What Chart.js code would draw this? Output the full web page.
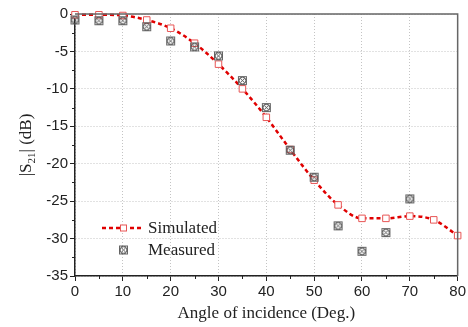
<!DOCTYPE html>
<html>
<head>
<meta charset="utf-8">
<script src="https://cdn.jsdelivr.net/npm/chart.js@4"></script>
<style>
    html, body { margin: 0; padding: 0; background: #fff; }
    #wrap { width: 468px; height: 327px; }
</style>
</head>
<body>
<div id="wrap"><canvas id="chart"></canvas></div>
<script>
// ======================================================
// Data
// ======================================================

const angles = [0, 5, 10, 15, 20, 25, 30, 35, 40, 45, 50, 55, 60, 65, 70, 75, 80];

const simulated = [-0.1, -0.1, -0.2, -0.8, -1.9, -3.9, -6.7, -10.0, -13.8,
    -18.1, -22.2, -25.5, -27.3, -27.3, -27.0, -27.5, -29.6];

const measuredAngles = [0, 5, 10, 15, 20, 25, 30, 35, 40, 45, 50, 55, 60, 65, 70];

const measured = [-0.8, -0.9, -0.9, -1.7, -3.6, -4.4, -5.6, -8.9, -12.5,
    -18.2, -21.8, -28.3, -31.7, -29.2, -24.7];

const xTicks = [0, 10, 20, 30, 40, 50, 60, 70, 80];
const yTicks = [0, -5, -10, -15, -20, -25, -30, -35];

const seriesNames = ["Simulated", "Measured"];

// ======================================================
// Marker for measured data (square + circle + cross)
// ======================================================

function crossMarker() {
    const c = document.createElement("canvas");
    c.width = 11;
    c.height = 11;
    const g = c.getContext("2d");
    g.strokeStyle = "#666";
    g.lineWidth = 1;
    g.strokeRect(1.5, 1.5, 8, 8);
    g.strokeStyle = "#444";
    g.lineWidth = 0.9;
    g.beginPath();
    g.arc(5.5, 5.5, 3.4, 0, Math.PI * 2);
    g.stroke();
    g.beginPath();
    g.moveTo(3.3, 3.3); g.lineTo(7.7, 7.7);
    g.moveTo(7.7, 3.3); g.lineTo(3.3, 7.7);
    g.stroke();
    return c;
}

const marker = crossMarker();

// ======================================================
// Frame, minor ticks, y title, legend
// ======================================================

const extras = {
    id: "extras",
    beforeDraw(chart) {
        const ctx = chart.ctx;
        ctx.save();
        ctx.fillStyle = "#fff";
        ctx.fillRect(0, 0, chart.width, chart.height);
        ctx.restore();
    },
    afterDraw(chart) {
        const ctx = chart.ctx;
        const a = chart.chartArea;
        const xs = chart.scales.x;
        const ys = chart.scales.y;

        ctx.save();

        // top / right frame
        ctx.strokeStyle = "#666";
        ctx.lineWidth = 1.5;
        ctx.beginPath();
        ctx.moveTo(a.left, a.top);
        ctx.lineTo(a.right, a.top);
        ctx.lineTo(a.right, a.bottom);
        ctx.stroke();

        // minor ticks
        ctx.strokeStyle = "#222";
        ctx.lineWidth = 1;
        ctx.beginPath();
        for (let v = 5; v < 80; v += 10) {
            const px = Math.round(xs.getPixelForValue(v)) + 0.5;
            ctx.moveTo(px, a.bottom);
            ctx.lineTo(px, a.bottom + 3);
        }
        for (let v = -2.5; v > -35; v -= 5) {
            const py = Math.round(ys.getPixelForValue(v)) + 0.5;
            ctx.moveTo(a.left, py);
            ctx.lineTo(a.left - 3, py);
        }
        ctx.stroke();

        // y title with subscript
        ctx.translate(27, (a.top + a.bottom) / 2);
        ctx.rotate(-Math.PI / 2);
        ctx.fillStyle = "#222";
        ctx.textBaseline = "middle";
        const big = "17px 'Liberation Serif', 'Times New Roman', serif";
        const small = "11px 'Liberation Serif', 'Times New Roman', serif";
        ctx.font = big;
        const p1 = "|S";
        const p3 = "| (dB)";
        const w1 = ctx.measureText(p1).width;
        const w3 = ctx.measureText(p3).width;
        ctx.font = small;
        const w2 = ctx.measureText("21").width;
        let x0 = -(w1 + w2 + w3) / 2;
        ctx.font = big;
        ctx.fillText(p1, x0, 0);
        ctx.font = small;
        ctx.fillText("21", x0 + w1, 5);
        ctx.font = big;
        ctx.fillText(p3, x0 + w1 + w2, 0);
        ctx.setTransform(1, 0, 0, 1, 0, 0);

        // legend
        const ly1 = 228;
        const ly2 = 250;
        ctx.strokeStyle = "#e00000";
        ctx.lineWidth = 2.5;
        ctx.setLineDash([4, 3]);
        ctx.beginPath();
        ctx.moveTo(102, ly1);
        ctx.lineTo(141, ly1);
        ctx.stroke();
        ctx.setLineDash([]);
        ctx.fillStyle = "#fff";
        ctx.fillRect(120, ly1 - 3.5, 7, 7);
        ctx.strokeStyle = "#e85555";
        ctx.lineWidth = 1;
        ctx.strokeRect(120.5, ly1 - 3, 6, 6);
        ctx.drawImage(marker, 118, ly2 - 5.5);

        ctx.fillStyle = "#222";
        ctx.font = "17px 'Liberation Serif', 'Times New Roman', serif";
        ctx.textBaseline = "middle";
        ctx.fillText(seriesNames[0], 148, ly1 + 1);
        ctx.fillText(seriesNames[1], 148, ly2 + 1);

        ctx.restore();
    }
};

// ======================================================
// Chart
// ======================================================

new Chart(
    document.getElementById("chart"),
    {
        type: "line",
        data: {
            datasets: [
                {
                    label: seriesNames[1],
                    data: measuredAngles.map((x, i) => ({ x: x, y: measured[i] })),
                    showLine: false,
                    pointStyle: marker,
                    pointRadius: 5,
                    clip: false
                },
                {
                    label: seriesNames[0],
                    data: angles.map((x, i) => ({ x: x, y: simulated[i] })),
                    borderColor: "#e00000",
                    borderWidth: 2.5,
                    borderDash: [4, 3],
                    cubicInterpolationMode: "monotone",
                    pointStyle: "rect",
                    pointRadius: 4.6,
                    pointBorderWidth: 1,
                    pointBorderColor: "#e85555",
                    pointBackgroundColor: "#fff",
                    clip: false
                }
            ]
        },
        options: {
            responsive: true,
            maintainAspectRatio: false,
            animation: false,
            layout: {
                padding: { top: 14, right: 10, left: 0, bottom: 0 }
            },
            plugins: {
                legend: { display: false },
                tooltip: { enabled: false }
            },
            scales: {
                x: {
                    type: "linear",
                    min: 0,
                    max: 80,
                    afterFit: (s) => { s.height = 51; },
                    afterBuildTicks: (s) => { s.ticks = xTicks.map(v => ({ value: v })); },
                    grid: {
                        color: "#c4c4c4",
                        lineWidth: 1,
                        tickLength: 5,
                        tickColor: "#222"
                    },
                    border: { color: "#222", width: 1.5, dash: [1, 2] },
                    ticks: {
                        padding: 2,
                        color: "#222",
                        font: { family: "'Liberation Sans', Arial, sans-serif", size: 15 }
                    },
                    title: {
                        display: true,
                        text: "Angle of incidence (Deg.)",
                        color: "#222",
                        padding: { top: 0, bottom: 3 },
                        font: { family: "'Liberation Serif', 'Times New Roman', serif", size: 17 }
                    }
                },
                y: {
                    type: "linear",
                    min: -35,
                    max: 0,
                    afterFit: (s) => { s.width = 75; },
                    afterBuildTicks: (s) => { s.ticks = yTicks.map(v => ({ value: v })); },
                    grid: {
                        color: "#c4c4c4",
                        lineWidth: 1,
                        tickLength: 5,
                        tickColor: "#222"
                    },
                    border: { color: "#222", width: 1.5, dash: [1, 2] },
                    ticks: {
                        padding: 2,
                        color: "#222",
                        font: { family: "'Liberation Sans', Arial, sans-serif", size: 15 }
                    }
                }
            }
        },
        plugins: [extras]
    }
);
</script>
</body>
</html>
